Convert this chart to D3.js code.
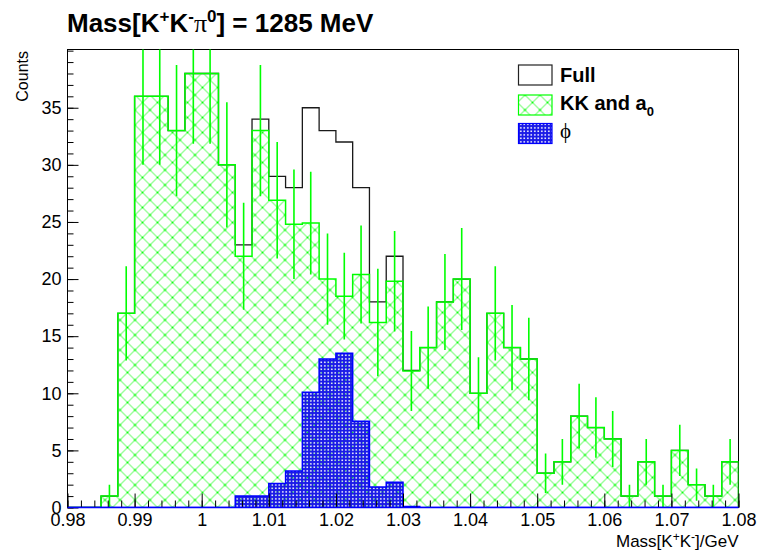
<!DOCTYPE html>
<html><head><meta charset="utf-8">
<script src="https://cdn.jsdelivr.net/npm/d3@7"></script>
<style>body{margin:0;background:#fff} svg{display:block}</style>
</head><body>
<svg id="c" width="757" height="550"></svg>
<script>
// ---- data ----
const binLowEdge = 0.98, binWidth = 0.0025, nBins = 40;
const fullCounts = [0,0,1,17,36,36,33,38,38,30, 23,34,29,28,35,33,32,28,18,22, 12,14,18,20,10,17,14,13,3,4, 8,7,6,1,4,1,5,2,1,4];
const kkCounts   = [0,0,1,17,36,36,33,38,38,30, 22,33,26.9,24.8,24.9,20,18.5,20.4,16.2,19.8, 11.95,14,18,20,10,17,14,13,3,4, 8,7,6,1,4,1,5,2,1,4];
const kkErrors   = [0,0,1,4.12,6,6,5.74,6.16,6.16,5.48, 4.69,5.74,5.1,4.8,4.5,4.0,3.8,4.3,4.7,4.4, 3.5,3.6,4.2,4.47,3.16,4.12,3.74,3.61,1.73,2, 2.83,2.65,2.45,1,2,1,2.24,1.41,1,2];
const phiCounts  = [0,0,0,0,0,0,0,0,0,0, 1.0,1.0,2.1,3.2,10.1,13.0,13.5,7.55,1.8,2.2, 0.08,0,0,0,0,0,0,0,0,0, 0,0,0,0,0,0,0,0,0,0];
const xMajorTicks = [0.98,0.99,1.00,1.01,1.02,1.03,1.04,1.05,1.06,1.07,1.08];
const xTickLabels = ["0.98","0.99","1","1.01","1.02","1.03","1.04","1.05","1.06","1.07","1.08"];
const yMajorTicks = [0,5,10,15,20,25,30,35];
const yTickLabels = ["0","5","10","15","20","25","30","35"];
const legendLabels = ["Full","KK and a","\u03D5"];

// ---- layout ----
const svg = d3.select("#c");
const L = 67.5, R = 738.5, T = 49.5, B = 507.5;
const x = d3.scaleLinear().domain([0.98, 1.08]).range([L, R]);
const y = d3.scaleLinear().domain([0, 40.1]).range([B, T]);
const font = "'Liberation Sans', Arial, Helvetica, sans-serif";
const green = "#00ff00", blue = "#0000ff";

const defs = svg.append("defs");
const P = 15;
const hp = defs.append("pattern").attr("id","hatch").attr("patternUnits","userSpaceOnUse")
  .attr("width",P).attr("height",P).attr("x",L).attr("y",B);
hp.append("path").attr("d",`M0,0L${P},${P}M${P},0L0,${P}M-3,${P-3}L3,${P+3}M${P-3},-3L${P+3},3M-3,3L3,-3M${P-3},${P+3}L${P+3},${P-3}`)
  .attr("stroke","#3dfc3d").attr("stroke-width",1).attr("fill","none");
[[P/2,P/2],[0,0],[P,0],[0,P],[P,P]].forEach(p=>hp.append("circle").attr("cx",p[0]).attr("cy",p[1]).attr("r",1.1).attr("fill",green));
const bp = defs.append("pattern").attr("id","dots").attr("patternUnits","userSpaceOnUse")
  .attr("width",3.5).attr("height",3.5).attr("x",L).attr("y",B);
bp.append("path").attr("d","M0,0h3.5v3.5h-3.5zM1,1v1.6h1.6v-1.6z").attr("fill","#1a1ae6").attr("fill-rule","evenodd");
defs.append("clipPath").attr("id","plotclip").append("rect").attr("x",L).attr("y",T).attr("width",R-L).attr("height",B-T);

// frame
svg.append("rect").attr("x",L).attr("y",T).attr("width",R-L).attr("height",B-T)
  .attr("fill","none").attr("stroke","#000").attr("stroke-width",1);

const edges = d3.range(nBins+1).map(i => binLowEdge + i*binWidth);
function stepPath(vals){
  let d = `M${x(edges[0])},${y(0)}`;
  vals.forEach((v,i)=>{ d += `L${x(edges[i])},${y(v)}L${x(edges[i+1])},${y(v)}`; });
  d += `L${x(edges[nBins])},${y(0)}`;
  return d;
}
const g = svg.append("g").attr("clip-path","url(#plotclip)");
g.append("path").attr("d",stepPath(fullCounts)).attr("fill","none").attr("stroke","#1a1a1a").attr("stroke-width",1.3);
g.append("path").attr("d",stepPath(kkCounts)+"Z").attr("fill","url(#hatch)").attr("stroke","none");
g.append("path").attr("d",stepPath(kkCounts)).attr("fill","none").attr("stroke",green).attr("stroke-width",1.5);
g.append("path").attr("d",stepPath(phiCounts)+"Z").attr("fill","url(#dots)").attr("stroke","none");
// error bars
g.selectAll("line.err").data(kkCounts.map((v,i)=>({v,e:kkErrors[i],c:binLowEdge+(i+0.5)*binWidth})).filter(d=>d.v>0))
  .enter().append("line").attr("class","err")
  .attr("x1",d=>x(d.c)).attr("x2",d=>x(d.c))
  .attr("y1",d=>y(Math.max(0,d.v-d.e))).attr("y2",d=>y(d.v+d.e))
  .attr("stroke",green).attr("stroke-width",1.6);
g.append("path").attr("d",stepPath(phiCounts)).attr("fill","none").attr("stroke",blue).attr("stroke-width",1.5);

// axes
const xMinor = d3.range(0,51).map(i=>0.98+i*0.002);
const ax = svg.append("g").attr("transform",`translate(0,${B})`);
ax.call(d3.axisBottom(x).tickValues(xMinor).tickSize(-7).tickFormat(""));
ax.append("g").call(d3.axisBottom(x).tickValues(xMajorTicks).tickSize(-14).tickPadding(6)
  .tickFormat((d,i)=>xTickLabels[i]));
ax.selectAll(".domain").remove();
ax.selectAll("line").attr("stroke","#000");
ax.selectAll("text").attr("font-family",font).attr("font-size",18).attr("fill","#000");
const yMinor = d3.range(0,41);
const ay = svg.append("g").attr("transform",`translate(${L},0)`);
ay.call(d3.axisLeft(y).tickValues(yMinor).tickSize(-6).tickFormat(""));
ay.append("g").call(d3.axisLeft(y).tickValues(yMajorTicks).tickSize(-11).tickPadding(6)
  .tickFormat((d,i)=>yTickLabels[i]));
ay.selectAll(".domain").remove();
ay.selectAll("line").attr("stroke","#000");
ay.selectAll("text").attr("font-family",font).attr("font-size",18).attr("fill","#000");
// blue baseline on top
svg.append("line").attr("x1",L).attr("x2",R).attr("y1",B).attr("y2",B).attr("stroke",blue).attr("stroke-width",1.5);

// title
const t = svg.append("text").attr("x",67).attr("y",31.5).attr("font-family",font)
  .attr("font-weight","bold").attr("font-size",26).attr("fill","#000");
t.append("tspan").text("Mass[K");
t.append("tspan").attr("dy",-10).attr("font-size",17).text("+");
t.append("tspan").attr("dy",10).text("K");
t.append("tspan").attr("dy",-10).attr("font-size",17).text("-");
t.append("tspan").attr("dy",10).attr("font-family","'Liberation Serif', 'Times New Roman', serif").attr("font-weight","normal").text("\u03C0");
t.append("tspan").attr("dy",-10).attr("font-size",17).text("0");
t.append("tspan").attr("dy",10).text("] = 1285 MeV");

// axis titles
svg.append("text").attr("transform","translate(28,51) rotate(-90)").attr("text-anchor","end")
  .attr("font-family",font).attr("font-size",16).text("Counts");
const xt = svg.append("text").attr("x",738.5).attr("y",546.5).attr("text-anchor","end")
  .attr("font-family",font).attr("font-size",17);
xt.append("tspan").text("Mass[K");
xt.append("tspan").attr("dy",-6).attr("font-size",12).text("+");
xt.append("tspan").attr("dy",6).text("K");
xt.append("tspan").attr("dy",-6).attr("font-size",12).text("-");
xt.append("tspan").attr("dy",6).text("]/GeV");

// legend
const lg = svg.append("g");
const boxY = [65, 95, 123.5];
const boxFill = ["#fff","url(#hatch)","url(#dots)"];
const boxStroke = ["#222", green, blue];
boxY.forEach((by,i)=>{
  lg.append("rect").attr("x",518.5).attr("y",by).attr("width",33.5).attr("height",20)
    .attr("fill",boxFill[i]).attr("stroke",boxStroke[i]).attr("stroke-width",1.2);
});
lg.append("text").attr("x",560).attr("y",81.5).attr("font-family",font).attr("font-weight","bold")
  .attr("font-size",20).text(legendLabels[0]);
const l2 = lg.append("text").attr("x",560).attr("y",110).attr("font-family",font).attr("font-weight","bold")
  .attr("font-size",20);
l2.append("tspan").text(legendLabels[1]);
l2.append("tspan").attr("dy",6).attr("font-size",13).text("0");
lg.append("text").attr("x",560).attr("y",137.5).attr("font-family","'Liberation Serif', 'DejaVu Serif', serif")
  .attr("font-size",21).text(legendLabels[2]);
</script>
</body></html>
